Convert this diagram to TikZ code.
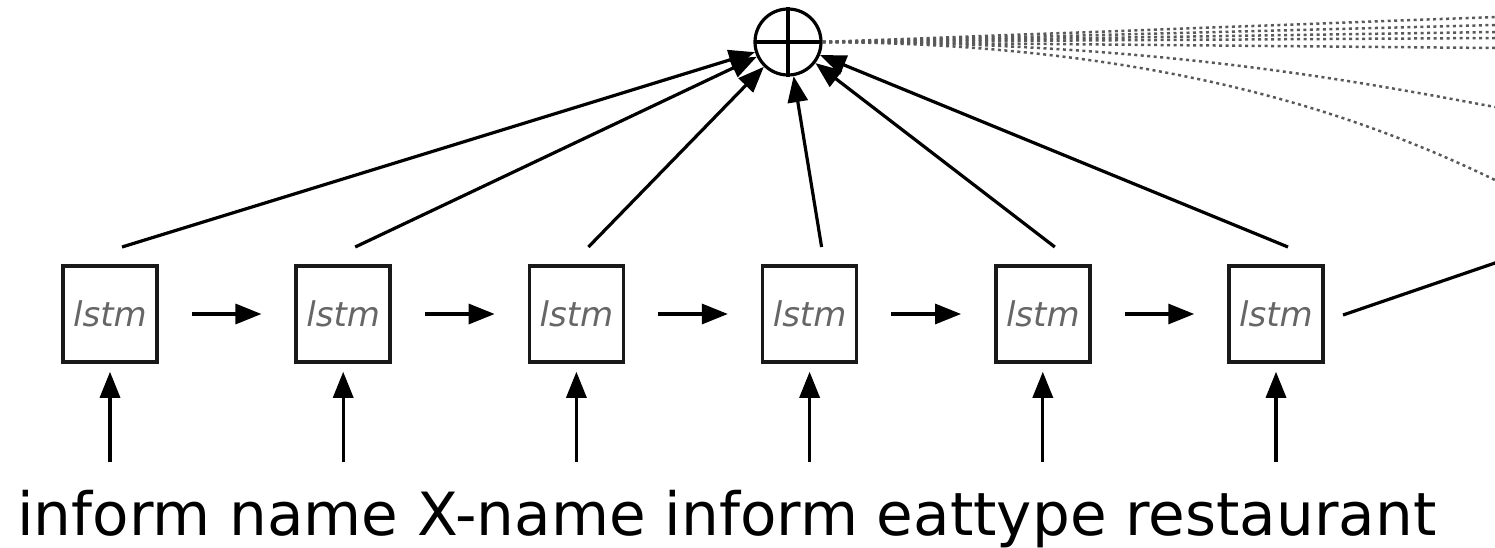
\documentclass[tikz,border=0pt]{standalone}
\usepackage{fontspec}
\setmainfont{DejaVu Sans}
\usetikzlibrary{arrows.meta,calc}
\begin{document}
\begin{tikzpicture}[x=1pt,y=-1pt,
  lstmbox/.style={draw=black!90, line width=3.5pt, minimum width=94pt, minimum height=96pt, inner sep=0pt,
    font=\fontsize{34}{40}\selectfont\itshape, text=black!60},
  arr/.style={line width=3.2pt, -{Triangle[length=26pt,width=20pt]}},
  plain/.style={line width=3.2pt},
  dotline/.style={draw=black!65, line width=2.5pt, dash pattern=on 3pt off 3.5pt},
  sumnode/.style={circle, draw, line width=3.2pt, minimum size=66pt, inner sep=0pt}]
\useasboundingbox (0,0) rectangle (1495,548);
\clip (0,0) rectangle (1495,548);
% boxes
\foreach \i in {1,...,6} {
  \node[lstmbox] (b\i) at ({110+233.2*(\i-1)},314) {lstm};
  \coordinate (in\i) at ({110+233.2*(\i-1)},462);
  \coordinate (s\i) at ({122+233.2*(\i-1)},247);
}
% sum node
\node[sumnode] (plus) at (788,42) {};
\draw[plain] (plus.north) -- (plus.south);
\draw[plain] ($(plus.west)+(3,0)$) -- ($(plus.east)+(-3,0)$);
% words
\node[anchor=base west, inner sep=0pt, font=\fontsize{59.6}{70}\selectfont] (words) at (17,535)
  {inform name X-name inform eattype restaurant};
% input arrows
\foreach \i in {1,...,6} {
  \draw[arr, shorten >=8pt] (in\i) -- (b\i.south);
  \draw[arr] (s\i) -- (plus);
}
% recurrent arrows
\foreach \i/\j in {1/2,2/3,3/4,4/5,5/6} {
  \draw[arr, shorten <=33pt, shorten >=33pt] (b\i.east) -- (b\j.west);
}
% last output line
\coordinate (o1) at (1343,315);
\coordinate (o2) at (1647,211);
\draw[plain] (o1) -- (o2);
% dotted lines
\coordinate (d1) at (1495,17);
\coordinate (d2) at (1495,25);
\coordinate (d3) at (1495,32);
\coordinate (d4) at (1495,38);
\coordinate (d5) at (1495,48);
\coordinate (e1) at (1495,107);
\coordinate (e2) at (1495,180);
\foreach \k in {1,...,5} {
  \draw[dotline] (plus.east) -- (d\k);
}
\draw[dotline] (plus.east) .. controls (1150,42) and (1350,80) .. (e1);
\draw[dotline] (plus.east) .. controls (1150,44) and (1350,110) .. (e2);
\end{tikzpicture}
\end{document}
